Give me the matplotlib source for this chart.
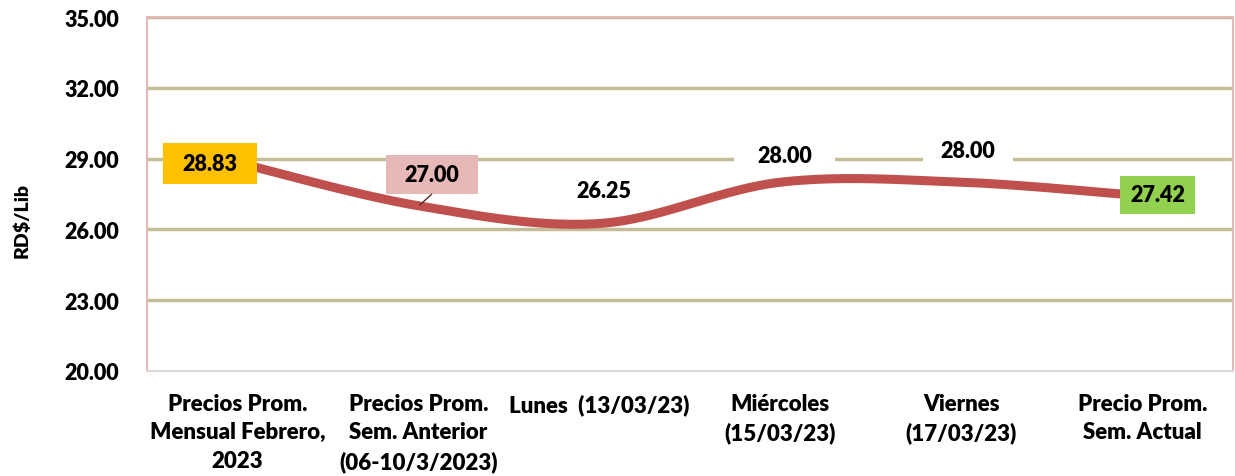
import matplotlib.pyplot as plt
import matplotlib.patches as mpatches
import matplotlib.transforms as mtransforms
import numpy as np

plt.rcParams['font.family'] = ['Lato', 'DejaVu Sans']
plt.rcParams['font.weight'] = 'heavy'

categories = [
    "Precios Prom.\nMensual Febrero,\n2023",
    "Precios Prom.\nSem. Anterior\n(06-10/3/2023)",
    "Lunes  (13/03/23)",
    "Miércoles\n(15/03/23)",
    "Viernes\n(17/03/23)",
    "Precio Prom.\nSem. Actual",
]
precios = [28.83, 27.00, 26.25, 28.00, 28.00, 27.42]
y_ticks = [20, 23, 26, 29, 32, 35]

# label look: (dx, dy, w, h) in pixels around the point, box colour
label_style = [
    (-28, -1, 94, 41, "#FFC000"),
    (13, 31, 92, 39, "#E6B9B8"),
    (4, 33, 0, 0, None),
    (4, 27, 101, 38, "white"),
    (6, 32, 90, 36, "white"),
    (15, 1, 75, 38, "#92D050"),
]

LINE_C = "#C0504D"
GRID_C = "#C4BD97"
FRAME_C = "#E6B9B8"


def smooth(xs, ys, n=40):
    # bezier smoothing like the spreadsheet "smoothed line"
    pts = np.column_stack([xs, ys]).astype(float)
    out = []
    for i in range(len(pts) - 1):
        p0 = pts[max(i - 1, 0)]
        p1 = pts[i]
        p2 = pts[i + 1]
        p3 = pts[min(i + 2, len(pts) - 1)]
        c1 = p1 + (p2 - p0) / 6.0
        c2 = p2 - (p3 - p1) / 6.0
        t = np.linspace(0, 1, n)[:, None]
        seg = ((1 - t) ** 3) * p1 + 3 * ((1 - t) ** 2) * t * c1 + 3 * (1 - t) * t ** 2 * c2 + t ** 3 * p2
        out.append(seg if i == 0 else seg[1:])
    out = np.vstack(out)
    return out[:, 0], out[:, 1]


fig = plt.figure(figsize=(12.35, 4.77), dpi=100)
ax = fig.add_axes([147 / 1235, 1 - 372 / 477, 1086 / 1235, 354 / 477])

x = np.arange(len(categories))
sx, sy = smooth(x, precios)
ax.plot(sx, sy, color=LINE_C, linewidth=6.5, solid_capstyle="butt", zorder=3)

ax.set_xlim(-0.5, len(categories) - 0.5)
ax.set_ylim(y_ticks[0], y_ticks[-1])
ax.set_yticks(y_ticks)
ax.set_yticklabels(["%.2f" % v for v in y_ticks])
ax.set_xticks(x)
ax.set_xticklabels(categories, linespacing=1.42, fontsize=16)
ax.tick_params(axis="y", length=0, labelsize=15.5, pad=20)
ax.tick_params(axis="x", length=0, pad=16)

for v in y_ticks[1:]:
    ax.axhline(v, color=GRID_C, linewidth=2.5, zorder=1)

for side in ["left", "top", "right", "bottom"]:
    ax.spines[side].set_color(FRAME_C)
    ax.spines[side].set_linewidth(1.5)
ax.spines["bottom"].set_color("#DDD9D3")

fig.text(22 / 1235, 1 - 220 / 477, "RD$/Lib", rotation=90, ha="center",
         va="center", fontsize=14)

for i, v in enumerate(precios):
    dx, dy, w, h, col = label_style[i]
    trans = mtransforms.Affine2D() + mtransforms.ScaledTranslation(i, v, ax.transData)
    if col is not None:
        rect = mpatches.Rectangle((dx - w / 2, dy - h / 2), w, h, transform=trans,
                                  facecolor=col, edgecolor="none", zorder=4, clip_on=False)
        ax.add_patch(rect)
    ax.text(dx, dy, "%.2f" % v, transform=trans, ha="center", va="center",
            fontsize=15.5, zorder=5)
    if i == 1:
        ax.plot([1.5, dx], [1, dy - h / 2], transform=trans, color="#5A2D2C",
                linewidth=1, zorder=4)

fig.savefig("out.png", dpi=100)
